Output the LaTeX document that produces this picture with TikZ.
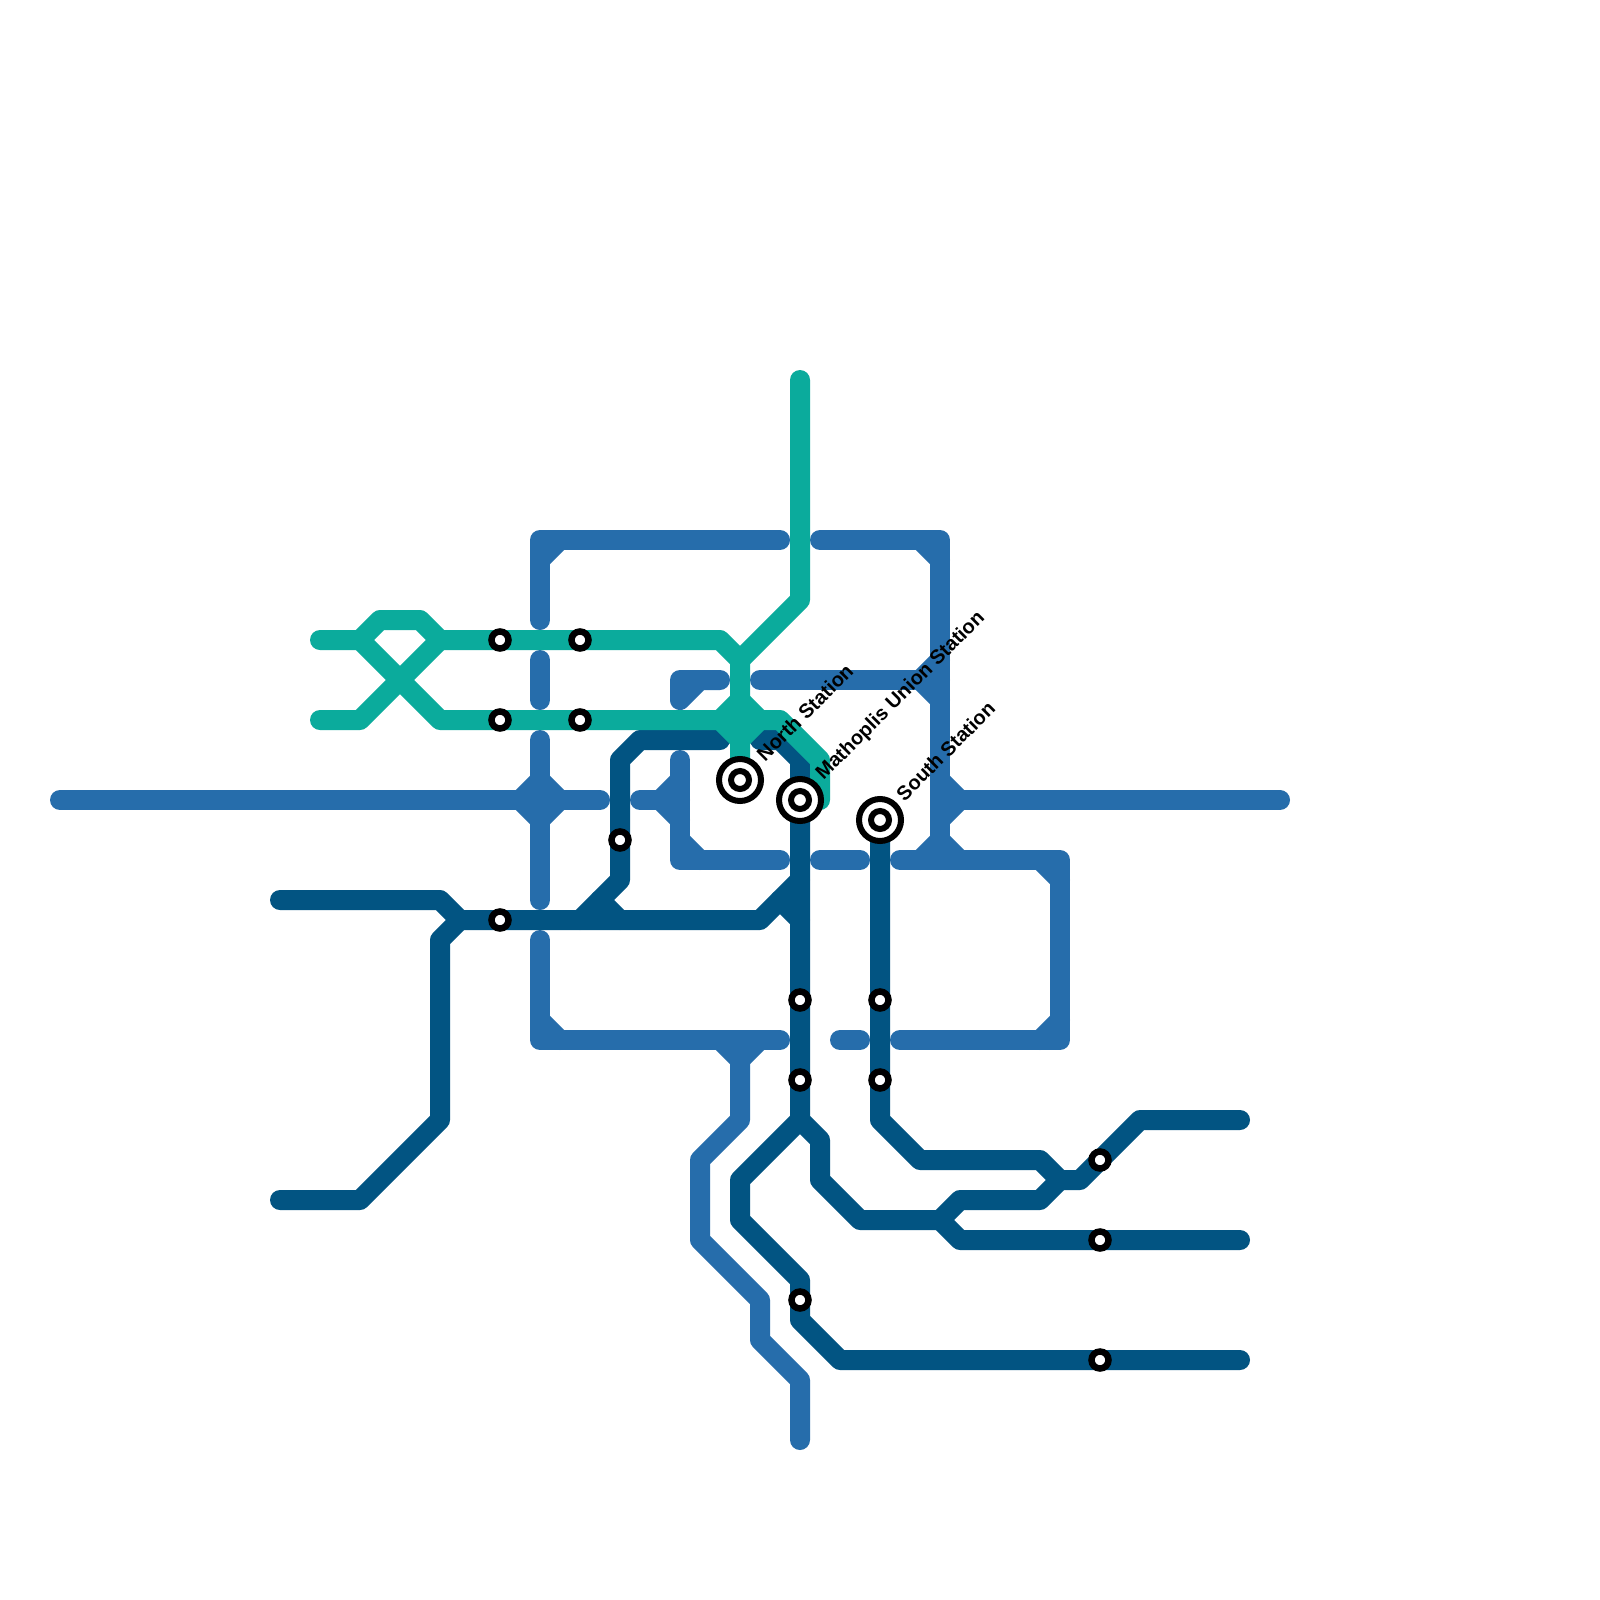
\documentclass[tikz,border=0pt]{standalone}
\usepackage{fontspec}
\setmainfont{Liberation Sans}
\definecolor{tealline}{HTML}{0BAB9C}
\definecolor{blueline}{HTML}{266DAB}
\definecolor{darkline}{HTML}{025482}
\tikzset{
  metro/.style={line width=10pt,line cap=round,line join=round},
  bluepath/.style={metro,draw=blueline},
  darkpath/.style={metro,draw=darkline},
  tealpath/.style={metro,draw=tealline},
  smallstn/.style={circle,draw=black,fill=white,line width=3.25pt,minimum size=8.5pt,inner sep=0pt,outer sep=0pt},
  bigstn/.style={circle,draw=black,fill=white,line width=3pt,minimum size=21pt,inner sep=0pt,outer sep=0pt},
  bigcore/.style={circle,draw=black,fill=white,line width=3pt,minimum size=9pt,inner sep=0pt,outer sep=0pt},
  stnlabel/.style={rotate=45,anchor=west,inner sep=0pt,outer sep=0pt,text=black,font=\bfseries\fontsize{10}{12}\selectfont}
}
\begin{document}
\begin{tikzpicture}[x=0.5pt,y=-0.5pt]
\fill[white] (0,0) rectangle (1600,1600);
\useasboundingbox (0,0) rectangle (1600,1600);
% blue lines
\draw[bluepath] (60,800) -- (600,800);
\draw[bluepath] (540,620) -- (540,540) -- (780,540);
\draw[bluepath] (540,560) -- (560,540);
\draw[bluepath] (540,660) -- (540,700);
\draw[bluepath] (540,740) -- (540,900);
\draw[bluepath] (540,780) -- (520,800) -- (540,820) -- (560,800) -- cycle;
\draw[bluepath] (540,940) -- (540,1040) -- (780,1040);
\draw[bluepath] (540,1020) -- (560,1040);
\draw[bluepath] (720,1040) -- (740,1060) -- (760,1040);
\draw[bluepath] (740,1040) -- (740,1120) -- (700,1160) -- (700,1240) -- (760,1300) -- (760,1340) -- (800,1380) -- (800,1440);
\draw[bluepath] (720,680) -- (680,680) -- (680,700) -- (700,680);
\draw[bluepath] (760,680) -- (940,680);
\draw[bluepath] (920,680) -- (940,660);
\draw[bluepath] (920,680) -- (940,700);
\draw[bluepath] (820,540) -- (940,540) -- (940,860);
\draw[bluepath] (920,540) -- (940,560);
\draw[bluepath] (900,860) -- (1060,860) -- (1060,1040) -- (900,1040);
\draw[bluepath] (920,860) -- (940,840) -- (960,860);
\draw[bluepath] (1040,860) -- (1060,880);
\draw[bluepath] (1060,1020) -- (1040,1040);
\draw[bluepath] (840,1040) -- (860,1040);
\draw[bluepath] (820,860) -- (860,860);
\draw[bluepath] (940,800) -- (1280,800);
\draw[bluepath] (940,780) -- (960,800) -- (940,820);
\draw[bluepath] (640,800) -- (680,800);
\draw[bluepath] (660,800) -- (680,780);
\draw[bluepath] (660,800) -- (680,820);
\draw[bluepath] (680,760) -- (680,860) -- (780,860);
\draw[bluepath] (680,840) -- (700,860);
% dark lines
\draw[darkpath] (280,900) -- (440,900) -- (460,920) -- (760,920) -- (800,880);
\draw[darkpath] (280,1200) -- (360,1200) -- (440,1120) -- (440,940) -- (460,920);
\draw[darkpath] (720,740) -- (640,740) -- (620,760) -- (620,880) -- (580,920);
\draw[darkpath] (600,900) -- (620,920);
\draw[darkpath] (780,900) -- (800,920);
\draw[darkpath] (760,740) -- (780,740) -- (800,760) -- (800,1120) -- (820,1140) -- (820,1180) -- (860,1220) -- (940,1220) -- (960,1200) -- (1040,1200) -- (1060,1180);
\draw[darkpath] (800,1120) -- (740,1180) -- (740,1220) -- (800,1280) -- (800,1320) -- (840,1360) -- (1240,1360);
\draw[darkpath] (880,820) -- (880,1120) -- (920,1160) -- (1040,1160) -- (1060,1180) -- (1080,1180) -- (1140,1120) -- (1240,1120);
\draw[darkpath] (940,1220) -- (960,1240) -- (1240,1240);
% teal lines
\draw[tealpath] (320,640) -- (360,640) -- (380,620) -- (420,620) -- (440,640) -- (720,640) -- (740,660) -- (740,780);
\draw[tealpath] (320,720) -- (360,720) -- (440,640);
\draw[tealpath] (360,640) -- (440,720) -- (780,720) -- (820,760) -- (820,800);
\draw[tealpath] (800,380) -- (800,600) -- (740,660);
\draw[tealpath] (740,700) -- (720,720) -- (740,740) -- (760,720) -- cycle;
% stations
\foreach \n/\p in {a/{500,640},b/{580,640},c/{500,720},d/{580,720},e/{620,840},f/{500,920},g/{800,1000},h/{880,1000},i/{800,1080},j/{880,1080},k/{1100,1160},l/{1100,1240},m/{1100,1360},o/{800,1300}}
  \node[smallstn] (stn\n) at (\p) {};
\node[bigstn] (north) at (740,780) {};
\node[bigcore] (northcore) at (north.center) {};
\node[bigstn] (union) at (800,800) {};
\node[bigcore] (unioncore) at (union.center) {};
\node[bigstn] (south) at (880,820) {};
\node[bigcore] (southcore) at (south.center) {};
% labels
\node[stnlabel] (northlabel) at (760,757) {North Station};
\node[stnlabel] (unionlabel) at (820,777) {Mathoplis Union Station};
\node[stnlabel] (southlabel) at (899.5,797) {South Station};
\end{tikzpicture}
\end{document}
